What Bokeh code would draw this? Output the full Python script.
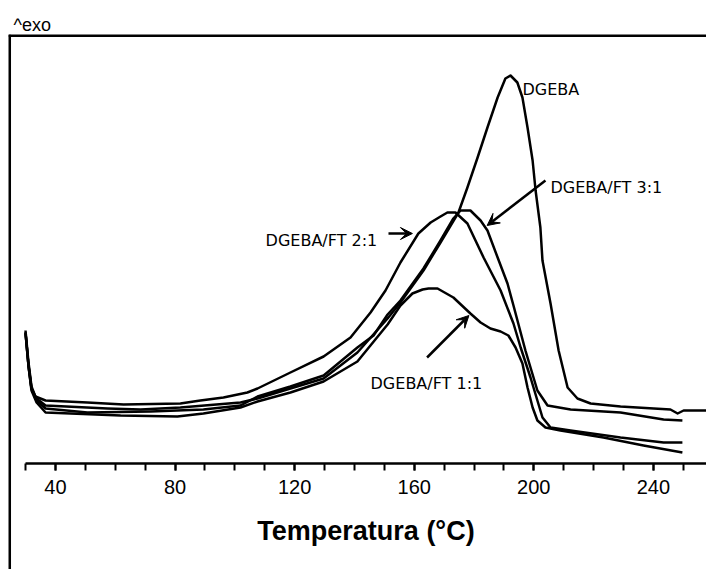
from bokeh.plotting import figure
from bokeh.models import (Range1d, LinearAxis, SingleIntervalTicker, Span, Label,
                          Arrow, VeeHead)
from bokeh.embed import file_html
from bokeh.resources import INLINE

# ---- data (temperature in deg C, heat flow in arbitrary units, exo up) ----
t_dgeba = [30.0, 31.0, 32.0, 33.7, 36.7, 57.4, 68.5, 81.8, 101.9, 107.6, 118.6, 129.7,
           141.0, 151.1, 155.4, 163.1, 168.8, 174.8, 177.8, 181.2, 184.5, 187.9, 190.5,
           192.2, 194.5, 196.2, 197.9, 199.6, 200.6, 202.2, 202.9, 205.6, 208.3, 211.3,
           214.6, 219.0, 229.0, 245.7, 248.1, 250.1, 257.8]
hf_dgeba = [1.30, 0.98, 0.75, 0.65, 0.58, 0.55, 0.54, 0.56, 0.61, 0.65, 0.75, 0.85,
            1.11, 1.45, 1.61, 1.93, 2.21, 2.51, 2.76, 3.06, 3.36, 3.66, 3.85,
            3.88, 3.81, 3.66, 3.36, 3.03, 2.73, 2.36, 2.03, 1.60, 1.13, 0.76,
            0.65, 0.60, 0.57, 0.54, 0.50, 0.53, 0.53]

t_31 = [30.0, 31.0, 32.0, 33.7, 36.7, 50.7, 71.8, 89.5, 101.9, 107.6, 118.6, 129.7,
        141.0, 146.4, 151.1, 155.4, 163.1, 168.8, 173.1, 175.5, 178.8, 182.2, 184.5,
        187.9, 191.2, 193.2, 197.2, 201.2, 204.6, 212.3, 229.0, 243.4, 249.7]
hf_31 = [1.31, 0.98, 0.75, 0.63, 0.55, 0.51, 0.52, 0.54, 0.58, 0.67, 0.77, 0.88,
         1.16, 1.28, 1.49, 1.63, 1.95, 2.23, 2.45, 2.53, 2.53, 2.43, 2.33,
         2.06, 1.80, 1.58, 1.13, 0.73, 0.58, 0.54, 0.51, 0.44, 0.43]

t_21 = [30.0, 31.0, 32.0, 33.3, 36.7, 50.7, 62.8, 81.8, 88.5, 96.2, 104.2, 107.6,
        118.6, 129.7, 138.7, 145.4, 150.4, 155.4, 161.4, 165.5, 168.8, 171.1, 173.8,
        177.8, 183.2, 188.9, 193.2, 195.6, 198.9, 201.2, 202.9, 205.6, 212.3, 229.0,
        243.4, 249.7]
hf_21 = [1.33, 1.01, 0.77, 0.67, 0.63, 0.61, 0.59, 0.60, 0.63, 0.66, 0.71, 0.75,
         0.91, 1.07, 1.26, 1.51, 1.73, 2.01, 2.30, 2.41, 2.47, 2.51, 2.51,
         2.40, 2.06, 1.73, 1.40, 1.16, 0.86, 0.63, 0.46, 0.36, 0.33, 0.26,
         0.21, 0.21]

t_11 = [30.0, 31.0, 32.0, 33.7, 36.7, 61.8, 80.8, 89.5, 101.9, 107.6, 118.6, 129.7,
        141.0, 151.1, 155.4, 159.4, 162.8, 164.8, 167.8, 173.1, 178.8, 182.2, 185.5,
        188.9, 191.5, 193.9, 196.2, 197.9, 199.6, 201.2, 203.9, 208.9, 223.3, 236.7,
        249.7]
hf_11 = [1.31, 0.97, 0.73, 0.61, 0.51, 0.48, 0.47, 0.50, 0.56, 0.62, 0.71, 0.82,
         1.02, 1.39, 1.58, 1.70, 1.74, 1.75, 1.75, 1.66, 1.50, 1.41, 1.35,
         1.32, 1.28, 1.16, 1.00, 0.76, 0.56, 0.43, 0.36, 0.33, 0.26, 0.18,
         0.11]

series = [(t_dgeba, hf_dgeba), (t_31, hf_31), (t_21, hf_21), (t_11, hf_11)]

x_label = "Temperatura (°C)"
tick_interval = 40
labels = [
    ("DGEBA", 196.2, 3.74),
    ("DGEBA/FT 3:1", 205.6, 2.76),
    ("DGEBA/FT 2:1", 110.3, 2.23),
    ("DGEBA/FT 1:1", 145.4, 0.80),
]
arrows = [
    (203.9, 2.83, 184.4, 2.38),
    (151.4, 2.30, 159.4, 2.30),
    (164.3, 1.06, 178.3, 1.48),
]

p = figure(width=706, height=569, output_backend="svg", toolbar_location=None,
           x_range=Range1d(24.31, 257.76), y_range=Range1d(-1.06, 4.29),
           x_axis_location=None, y_axis_location=None,
           min_border_left=8, min_border_right=0, min_border_top=34,
           min_border_bottom=0)
p.outline_line_color = None
p.grid.visible = False
p.background_fill_color = "white"
p.border_fill_color = "white"

p.title.text = "^exo"
p.title.text_font = "Liberation Sans"
p.title.text_font_style = "normal"
p.title.text_font_size = "18px"
p.title.text_color = "black"
p.title.align = "left"
p.title.offset = 5
p.title.standoff = 0

# frame borders (left + top)
p.add_layout(Span(location=24.65, dimension="height", line_color="black", line_width=3))
p.add_layout(Span(location=4.28, dimension="width", line_color="black", line_width=3))

for t, hf in series:
    p.line(t, hf, line_color="black", line_width=2.5, line_join="round")

ax = LinearAxis(fixed_location=0,
                ticker=SingleIntervalTicker(interval=tick_interval, num_minor_ticks=4),
                bounds=(30, 262.1))
ax.axis_label = x_label
ax.axis_label_text_font = "Liberation Sans"
ax.axis_label_text_font_style = "bold"
ax.axis_label_text_font_size = "27px"
ax.axis_label_text_color = "black"
ax.axis_label_standoff = 19
ax.axis_line_width = 2.5
ax.axis_line_color = "black"
ax.major_tick_in = 0
ax.major_tick_out = 7
ax.minor_tick_in = 0
ax.minor_tick_out = 7
ax.major_tick_line_width = 2
ax.minor_tick_line_width = 2
ax.major_tick_line_color = "black"
ax.minor_tick_line_color = "black"
ax.major_label_text_font = "Liberation Sans"
ax.major_label_text_font_size = "20px"
ax.major_label_standoff = 9
ax.major_label_text_color = "black"
p.add_layout(ax, "below")

for txt, x, y in labels:
    p.add_layout(Label(x=x, y=y, text=txt, text_font="DejaVu Sans",
                       text_font_size="16px", text_baseline="alphabetic",
                       text_color="black"))

for xs, ys, xe, ye in arrows:
    p.add_layout(Arrow(end=VeeHead(size=12, fill_color="black", line_color="black", line_width=1),
                       x_start=xs, y_start=ys, x_end=xe, y_end=ye,
                       line_color="black", line_width=2.5))

open("out.html", "w").write(file_html(p, INLINE))
